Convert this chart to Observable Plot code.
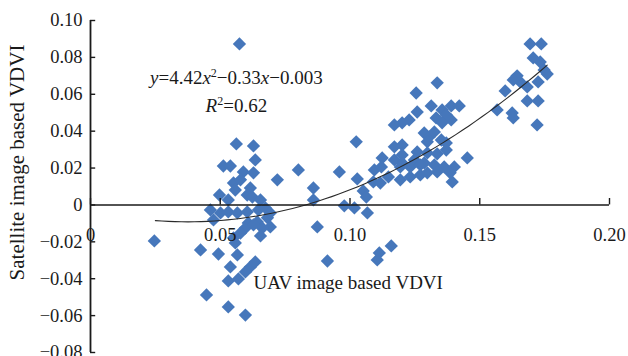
<!DOCTYPE html>
<html><head><meta charset="utf-8">
<script src="https://cdn.jsdelivr.net/npm/d3@7"></script>
<script src="https://cdn.jsdelivr.net/npm/@observablehq/plot@0.6"></script>
<style>html,body{margin:0;padding:0;background:#fff;} svg{display:block}</style>
</head><body><div id="chart"></div>
<script>
// UAV image based VDVI (x) and satellite image based VDVI (y)
const uavVDVI = [
  0.0574,0.0562,0.0628,0.0635,0.0512,0.0539,0.0589,0.0628,0.0720,0.0801,
  0.0551,0.0578,0.0558,0.0616,0.0604,0.0624,0.0497,0.0859,0.0859,0.0655,
  0.0462,0.0501,0.0531,0.0566,0.0604,0.0647,0.0674,0.0682,0.0643,0.0608,
  0.0693,0.0597,0.0662,0.0474,0.0655,0.0578,0.0558,0.0424,0.0493,0.0566,
  0.0539,0.0616,0.0635,0.0597,0.0531,0.0570,0.0447,0.0531,0.0597,0.0246,
  0.0551,0.0874,0.0913,0.0628,0.0531,0.0693,
  0.1336,0.1255,0.1313,0.1355,0.1390,0.1421,0.1259,0.1228,0.1201,0.1171,
  0.1371,0.1390,0.1332,0.1355,0.1024,0.1171,0.1201,0.1286,0.1305,0.1325,
  0.1352,0.1371,0.1259,0.1298,0.1336,0.1371,0.1124,0.1452,0.1171,0.1201,
  0.1248,0.1286,0.1325,0.1363,0.1402,0.0959,0.1028,0.1094,0.1121,0.1194,
  0.1232,0.1271,0.1090,0.1148,0.1194,0.1232,0.1271,0.1298,0.1336,0.1386,
  0.1394,0.1051,0.1063,0.0978,0.1017,0.1067,0.1113,0.1159,0.1105,0.1117,
  0.1298,0.1201,
  0.1694,0.1737,0.1706,0.1733,0.1760,0.1644,0.1656,0.1629,0.1598,0.1683,
  0.1725,0.1683,0.1725,0.1567,0.1625,0.1629,0.1721,0.1748
];
const satVDVI = [
  0.0873,0.0331,0.0320,0.0244,0.0211,0.0211,0.0179,0.0174,0.0136,0.0190,
  0.0119,0.0136,0.0081,0.0092,0.0054,0.0043,0.0054,0.0092,0.0027,0.0027,
  -0.0027,-0.0043,-0.0038,-0.0043,-0.0038,-0.0027,-0.0016,-0.0070,-0.0092,-0.0098,
  -0.0119,-0.0125,-0.0125,-0.0081,-0.0168,-0.0152,-0.0206,-0.0244,-0.0266,-0.0271,
  -0.0336,-0.0336,-0.0309,-0.0363,-0.0412,-0.0401,-0.0488,-0.0553,-0.0597,-0.0195,
  -0.0179,-0.0119,-0.0304,-0.0108,0.0027,-0.0043,
  0.0662,0.0607,0.0537,0.0515,0.0537,0.0537,0.0504,0.0461,0.0445,0.0434,
  0.0488,0.0461,0.0472,0.0445,0.0342,0.0315,0.0325,0.0390,0.0369,0.0396,
  0.0352,0.0336,0.0287,0.0282,0.0277,0.0298,0.0255,0.0255,0.0244,0.0228,
  0.0244,0.0228,0.0217,0.0206,0.0206,0.0179,0.0141,0.0190,0.0206,0.0206,
  0.0206,0.0217,0.0125,0.0152,0.0136,0.0152,0.0163,0.0174,0.0179,0.0174,
  0.0125,0.0076,0.0043,-0.0005,-0.0016,-0.0043,-0.0260,-0.0222,-0.0298,0.0119,
  0.0342,0.0271,
  0.0873,0.0873,0.0797,0.0775,0.0710,0.0700,0.0667,0.0678,0.0618,0.0640,
  0.0667,0.0564,0.0564,0.0515,0.0499,0.0472,0.0434,0.0732
];
const xTicks = [0, 0.05, 0.10, 0.15, 0.20];
const yTicks = [-0.08, -0.06, -0.04, -0.02, 0, 0.02, 0.04, 0.06, 0.08, 0.10];
const fitCoef = [4.42, -0.33, -0.003];   // y = a x^2 + b x + c
const fitRange = [0.025, 0.176];
const xLabel = "UAV image based VDVI";
const yLabel = "Satellite image based VDVI";
const eqText = "y=4.42x2−0.33x−0.003";
const r2Text = "R2=0.62";

const points = uavVDVI.map((x, i) => ({x, y: satVDVI[i]}));
const curve = d3.range(61).map(i => {
  const x = fitRange[0] + (fitRange[1] - fitRange[0]) * i / 60;
  return {x, y: fitCoef[0] * x * x + fitCoef[1] * x + fitCoef[2]};
});
const fmt = d => d === 0 ? "0" : d3.format(".2f")(d);
const ink = "#1a1a1a";
const serif = "'Liberation Serif','Times New Roman',serif";

const chart = Plot.plot({
  width: 628, height: 356,
  marginLeft: 90, marginRight: 19, marginTop: 20, marginBottom: 4,
  x: {domain: [0, 0.2], axis: null},
  y: {domain: [-0.08, 0.10], axis: null},
  style: {fontFamily: serif, background: "#fff", color: ink, overflow: "visible"},
  marks: [
    Plot.dot(points, {x: "x", y: "y", symbol: d3.symbolDiamond2, r: 6, fill: "#4677bb", stroke: "none"}),
    Plot.line(curve, {x: "x", y: "y", stroke: "#2a2a2a", strokeWidth: 1.1}),
    Plot.ruleX([0], {y1: -0.08, y2: 0.10, stroke: ink, strokeWidth: 1.8}),
    Plot.ruleY([0], {x1: 0, x2: 0.2, stroke: ink, strokeWidth: 1.4}),
    Plot.ruleY(yTicks, {y: d => d, x1: 0, x2: 0.002, stroke: ink, strokeWidth: 1.4}),
    Plot.ruleX(xTicks, {x: d => d, y1: 0, y2: 0.0035, stroke: ink, strokeWidth: 1.4}),
    Plot.text(yTicks, {y: d => d, frameAnchor: "left", dx: -8, textAnchor: "end", text: fmt, fontSize: 18.5, fill: ink}),
    Plot.text(xTicks, {x: d => d, y: 0, dy: 30, text: fmt, fontSize: 18.5, fill: ink}),
    Plot.text([xLabel], {x: 0.0993, y: -0.0423, text: d => d, fontSize: 19, fill: ink}),
    Plot.text([yLabel], {frameAnchor: "left", textAnchor: "middle", rotate: -90, dx: -73, dy: -24, text: d => d, fontSize: 21, fill: ink}),
    Plot.text([eqText], {x: 0.0562, y: 0.069, text: d => d, fontSize: 19, fill: ink}),
    Plot.text([r2Text], {x: 0.0562, y: 0.0535, text: d => d, fontSize: 19, fill: ink})
  ]
});
document.getElementById("chart").appendChild(chart);

// italic variables and superscripts in the regression annotation
function rich(textEl, parts) {
  textEl.textContent = "";
  parts.forEach(([s, kind]) => {
    const t = document.createElementNS("http://www.w3.org/2000/svg", "tspan");
    t.textContent = s;
    if (kind === "i") t.setAttribute("font-style", "italic");
    if (kind === "sup") { t.setAttribute("font-size", "12"); t.setAttribute("dy", "-7"); }
    if (kind === "after") t.setAttribute("dy", "7");
    textEl.appendChild(t);
  });
}
chart.querySelectorAll("text").forEach(el => {
  if (el.textContent === eqText) {
    rich(el, [["y","i"],["=4.42",""],["x","i"],["2","sup"],["−0.33","after"],["x","i"],["−0.003",""]]);
  } else if (el.textContent === r2Text) {
    rich(el, [["R","i"],["2","sup"],["=0.62","after"]]);
  }
});
</script></body></html>
